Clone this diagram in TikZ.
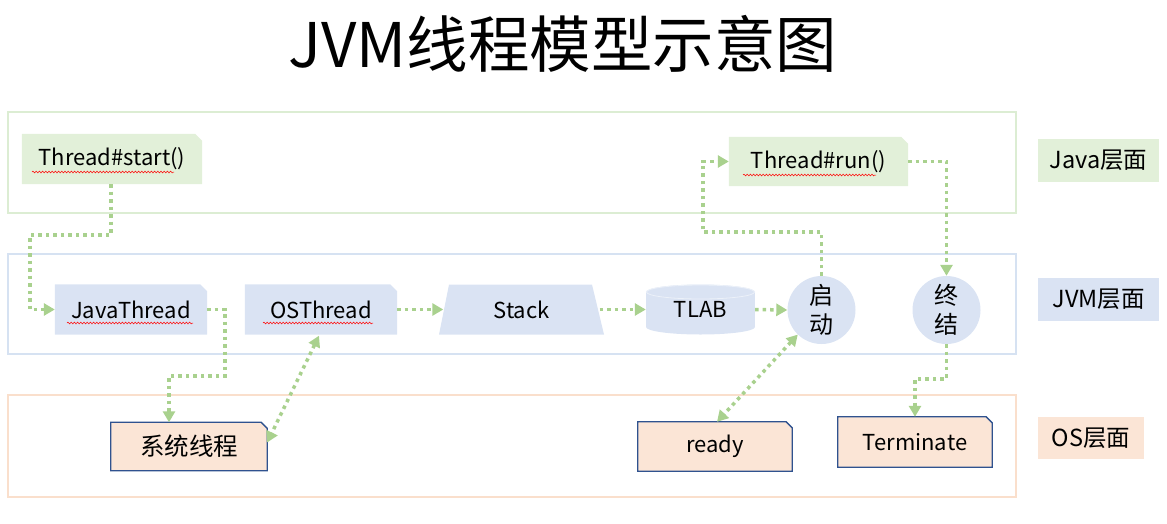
\documentclass[tikz,border=0pt]{standalone}
\usepackage{fontspec}
\setmainfont{Noto Sans CJK SC}
\usetikzlibrary{arrows.meta,decorations.pathmorphing,calc}
\pgfdeclarelayer{background}
\pgfsetlayers{background,main}
\definecolor{jgreen}{HTML}{E2F0D9}
\definecolor{jblue}{HTML}{DAE3F3}
\definecolor{jorange}{HTML}{FBE5D6}
\definecolor{cgreen}{HTML}{A9D18E}
\definecolor{oborder}{HTML}{2F528F}
\definecolor{lgreenb}{HTML}{DCEDD3}
\definecolor{lblueb}{HTML}{D6E2F2}
\definecolor{loranb}{HTML}{FADFCC}
\newcommand\snipbox[3]{\path[#2] (#1.south west) -- (#1.north west) -- ([xshift=-#3]#1.north east) -- ([yshift=-#3]#1.north east) -- (#1.south east) -- cycle;}
\tikzset{
  conn/.style={draw=cgreen, line width=3.5pt, dash pattern=on 3.5pt off 4pt, -{Triangle[length=11pt,width=12pt]}},
  conn2/.style={draw=cgreen, line width=3.5pt, dash pattern=on 3.5pt off 4pt, {Triangle[length=11pt,width=12pt]}-{Triangle[length=11pt,width=12pt]}},
  lane/.style={draw, line width=2pt, inner sep=0pt},
  box/.style={inner sep=0pt, minimum height=50pt, text=black},
  cjkbig/.style={font=\fontsize{24.5}{29}\selectfont},
  tag/.style={inner sep=0pt, minimum height=43pt, font=\fontsize{23.5}{28}\selectfont},
  stateC/.style={circle, fill=jblue, minimum size=68pt, inner sep=0pt, align=center, font=\fontsize{24}{29}\selectfont},
  squig/.style={draw=red, line width=0.5pt, decorate, decoration={snake, amplitude=0.9pt, segment length=3.2pt}},
  titletext/.style={font=\fontsize{61.5}{66}\selectfont}
}
\begin{document}
\begin{tikzpicture}[x=1pt,y=-1pt, font=\fontsize{22}{28}\selectfont]
\useasboundingbox (0,0) rectangle (1167,523);
\node[titletext] (title) at (563,44) {JVM线程模型示意图};
% lanes
\node[lane, draw=lgreenb, minimum width=1008pt, minimum height=101pt] (lanejava) at (512,162.5) {};
\node[lane, draw=lblueb, minimum width=1008pt, minimum height=100pt] (lanejvm) at (512,304) {};
\node[lane, draw=loranb, minimum width=1008pt, minimum height=102pt] (laneos) at (512,446) {};
% layer labels
\node[tag, fill=jgreen, minimum width=121pt] (ljava) at (1098.5,160.5) {Java层面};
\node[tag, fill=jblue, minimum width=121pt] (ljvm) at (1098.5,299.5) {JVM层面};
\node[tag, fill=jorange, minimum width=106pt, minimum height=42pt] (los) at (1091,438) {OS层面};
% java level
\node[box, minimum width=180pt] (tstart) at (112,159) {Thread\#start()};
\node[box, minimum width=179pt, minimum height=49pt] (trun) at (818.5,161.5) {Thread\#run()};
% jvm level
\node[box, minimum width=152pt] (jthread) at (131,309.5) {JavaThread};
\node[box, minimum width=152pt] (othread) at (321,309.5) {OSThread};
\node[box, minimum width=156pt] (stk) at (521.5,309.5) {Stack};
\node[box, minimum width=109pt] (tlab) at (700.5,309.5) {TLAB};
\node[stateC] (qd) at (821.5,310) {启\\动};
\node[stateC] (zj) at (946.5,310) {终\\结};
% os level
\node[box, cjkbig, minimum width=156pt, minimum height=48pt] (sys) at (189,446.5) {系统线程};
\node[box, minimum width=154pt, minimum height=49pt] (rdy) at (715,446.5) {ready};
\node[box, minimum width=154pt] (term) at (915,442) {Terminate};
% shapes behind text
\begin{pgfonlayer}{background}
\snipbox{tstart}{fill=jgreen}{7pt}
\snipbox{trun}{fill=jgreen}{7pt}
\snipbox{jthread}{fill=jblue}{7pt}
\snipbox{othread}{fill=jblue}{7pt}
\snipbox{sys}{fill=jorange, draw=oborder, line width=1.3pt}{6pt}
\snipbox{rdy}{fill=jorange, draw=oborder, line width=1.3pt}{6pt}
\snipbox{term}{fill=jorange, draw=oborder, line width=1.3pt}{6pt}
\fill[jblue] (439,334.5) -- (449,284.5) -- (592,284.5) -- (604,334.5) -- cycle;
\fill[jblue] (646,292) rectangle (755,327);
\fill[jblue] (700.5,327) ellipse [x radius=54.5pt, y radius=7.5pt];
\fill[jblue] (700.5,292) ellipse [x radius=54.5pt, y radius=7.5pt];
\draw[white!50!jblue, line width=0.8pt] (700.5,292) ellipse [x radius=54pt, y radius=7pt];
\end{pgfonlayer}
% spell-check underlines
\draw[squig] (32,172) -- (174,172);
\draw[squig] (743,175) -- (876,175);
\draw[squig] (67,323) -- (193,323);
\draw[squig] (263,323) -- (373,323);
% connectors
\coordinate (c1) at (30,235);
\coordinate (c2) at (225,376);
\coordinate (c7) at (703,232);
\coordinate (c9) at (915,379);
\draw[conn] ([xshift=-1pt]tstart.south) |- (c1) |- (jthread.west);
\draw[conn] (jthread.east) -| (c2) -| ([xshift=-20pt]sys.north);
\draw[conn2] ([xshift=-2pt,yshift=-1pt]othread.south) -- ([yshift=4pt]sys.east);
\draw[conn] (othread.east) -- (stk.west);
\draw[conn] (stk.east) -- (tlab.west);
\draw[conn] (tlab.east) -- (qd.west);
\draw[conn] (qd.north) |- (c7) |- (trun.west);
\draw[conn] (trun.east) -| (zj.north);
\draw[conn] (zj.south) |- (c9) -- (term.north);
\draw[conn2] (qd.226) -- ([xshift=2pt]rdy.north);
\end{tikzpicture}
\end{document}
